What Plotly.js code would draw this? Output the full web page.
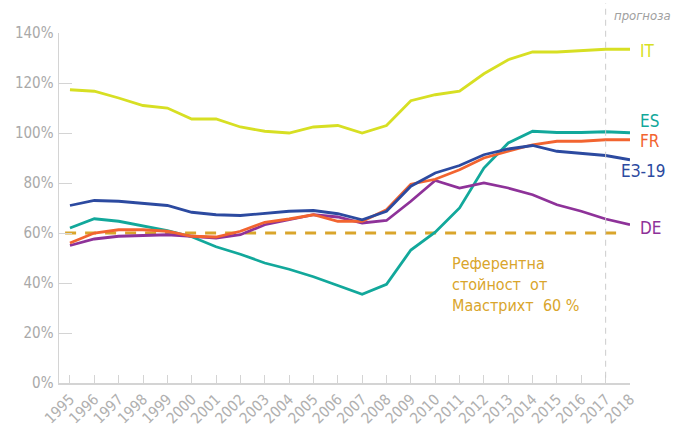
<!DOCTYPE html>
<html>
<head>
<meta charset="utf-8">
<script src="https://cdn.plot.ly/plotly-3.0.1.min.js"></script>
<style>html,body{margin:0;padding:0;background:#fff;}#chart{width:686px;height:432px;}</style>
</head>
<body>
<div id="chart"></div>
<script>
const years = [1995,1996,1997,1998,1999,2000,2001,2002,2003,2004,2005,2006,2007,2008,2009,2010,2011,2012,2013,2014,2015,2016,2017,2018];
const IT = [117.3,116.7,114,111,110,105.6,105.6,102.4,100.7,100,102.4,103,100,103,112.9,115.3,116.7,123.7,129.3,132.4,132.4,133,133.5,133.5];
const ES = [62,65.7,64.7,62.7,61,58.5,54.5,51.5,48,45.5,42.5,39,35.5,39.5,53.2,60.3,70,86,96,100.7,100.2,100.2,100.5,100.1];
const FR = [56,60,61.3,61.3,60.7,58.7,58.4,60.7,64.3,65.6,67.3,64.7,64.7,69.3,79.5,81.5,85.3,90,92.7,95.3,96.7,96.7,97.3,97.3];
const EZ = [71,73,72.7,72,71,68.3,67.3,67,68,68.7,69,67.7,65.3,68.7,78.7,84,87,91.3,93.6,95,92.7,91.7,91,89.3];
const DE = [55,57.6,58.7,59,59.3,58.7,58,59.3,63.3,65.3,67.3,66.4,64,65,72.7,81,78,80,78,75.3,71.3,68.7,65.6,63.3];
const refValue = 60;
const forecastYear = 2017;
const yTicks = [0,20,40,60,80,100,120,140];
const yTickText = ['0%','20%','40%','60%','80%','100%','120%','140%'];
const seriesNames = ['IT','ES','FR','ЕЗ-19','DE'];
const refText = 'Референтна<br>стойност  от<br>Маастрихт  60 %';
const forecastText = 'прогноза';

const colors = {IT:'#d7df23', ES:'#12a89b', FR:'#f26430', EZ:'#2c4aa0', DE:'#8e3299', ref:'#d9a52b'};
const FONT = '"DejaVu Sans Condensed", "Liberation Sans Narrow", sans-serif';

function line(y, c, name){
  return {x: years, y: y, type:'scatter', mode:'lines', name:name,
          line:{color:c, width:2.8, shape:'linear'}, hoverinfo:'skip'};
}
const data = [
  line(IT, colors.IT, 'IT'),
  line(ES, colors.ES, 'ES'),
  line(DE, colors.DE, 'DE'),
  line(FR, colors.FR, 'FR'),
  line(EZ, colors.EZ, 'ЕЗ-19')
];

const labelFont = (c)=>({family: FONT, size: 17, color: c});
const annotations = [
  {x: 2018, y: 133, text: seriesNames[0], xref:'x', yref:'y', xanchor:'left', xshift:8, showarrow:false, font: labelFont(colors.IT)},
  {x: 2018, y: 104.8, text: seriesNames[1], xref:'x', yref:'y', xanchor:'left', xshift:8, showarrow:false, font: labelFont(colors.ES)},
  {x: 2018, y: 97, text: seriesNames[2], xref:'x', yref:'y', xanchor:'left', xshift:8, showarrow:false, font: labelFont(colors.FR)},
  {x: 2018, y: 85, text: seriesNames[3], xref:'x', yref:'y', xanchor:'center', xshift:13, showarrow:false, font: labelFont(colors.EZ)},
  {x: 2018, y: 62, text: seriesNames[4], xref:'x', yref:'y', xanchor:'left', xshift:8, showarrow:false, font: labelFont(colors.DE)},
  {x: 2010.6, y: 52.5, text: refText, xref:'x', yref:'y', xanchor:'left', yanchor:'top', align:'left', showarrow:false,
   font:{family: FONT, size: 16, color: colors.ref}},
  {x: 0.968, y: 1.051, text: forecastText, xref:'paper', yref:'paper', xanchor:'left', yanchor:'middle', showarrow:false,
   font:{family: FONT, size: 13, color:'#a0a0a0', style:'italic'}}
];

const shapes = [
  {type:'line', xref:'x', yref:'paper', x0: forecastYear, x1: forecastYear, y0: 0.015, y1: 1.085,
   line:{color:'#cccccc', width:1, dash:'6px,5px'}},
  {type:'line', xref:'x', yref:'y', x0: 1994.8, x1: 2017.6, y0: refValue, y1: refValue,
   line:{color: colors.ref, width:3, dash:'11px,9px'}, layer:'below'}
];

const layout = {
  width: 686, height: 432,
  margin: {l:59, r:56, t:33, b:49, pad:0},
  paper_bgcolor:'#ffffff', plot_bgcolor:'#ffffff',
  showlegend: false,
  font: {family: FONT, color:'#a9a9a9', size: 14},
  xaxis: {
    range: [1994.55, 2018], tickvals: years, ticktext: years.map(String),
    tickangle: -45, ticks:'inside', ticklen: 8, tickcolor:'#d4d4d4', tickwidth:1,
    showline: true, linecolor:'#d4d4d4', linewidth: 1.5, showgrid:false, zeroline:false,
    tickfont:{family: FONT, size: 15, color:'#b0b0b0'}, fixedrange:true
  },
  yaxis: {
    range: [0, 140], tickvals: yTicks, ticktext: yTickText,
    ticks:'inside', ticklen: 13, tickcolor:'#d4d4d4', tickwidth:1,
    showline: true, linecolor:'#d4d4d4', linewidth: 1.5, showgrid:false, zeroline:false,
    tickfont:{family: FONT, size: 15, color:'#a9a9a9'}, ticklabelstandoff: 1, fixedrange:true
  },
  annotations: annotations,
  shapes: shapes
};
Plotly.newPlot('chart', data, layout, {displayModeBar:false, staticPlot:true});
</script>
</body>
</html>
